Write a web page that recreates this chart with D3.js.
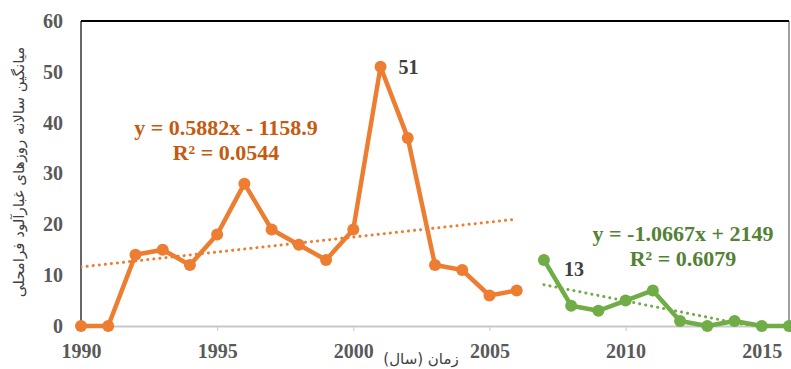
<!DOCTYPE html>
<html>
<head>
<meta charset="utf-8">
<script src="https://cdn.jsdelivr.net/npm/d3@7"></script>
<style>
  body { margin: 0; background: #fff; }
  text { font-family: "Liberation Serif", "Times New Roman", serif; }
</style>
</head>
<body>
<svg id="chart" width="791" height="369"></svg>
<script>
// early period (orange) and later period (green)
var years1 = [1990, 1991, 1992, 1993, 1994, 1995, 1996, 1997, 1998, 1999, 2000, 2001, 2002, 2003, 2004, 2005, 2006];
var values1 = [0, 0, 14, 15, 12, 18, 28, 19, 16, 13, 19, 51, 37, 12, 11, 6, 7];
var years2 = [2007, 2008, 2009, 2010, 2011, 2012, 2013, 2014, 2015, 2016];
var values2 = [13, 4, 3, 5, 7, 1, 0, 1, 0, 0];
var trend1 = { slope: 0.5882, intercept: -1158.9, r2: "0.0544", label: "y = 0.5882x - 1158.9" };
var trend2 = { slope: -1.0667, intercept: 2149, r2: "0.6079", label: "y = -1.0667x + 2149" };
var xTicks = [1990, 1995, 2000, 2005, 2010, 2015];
var yTicks = [0, 10, 20, 30, 40, 50, 60];

var margin = { top: 21, right: 2, bottom: 43, left: 81 },
    width = 791 - margin.left - margin.right,
    height = 369 - margin.top - margin.bottom;

var x = d3.scaleLinear().domain([1990, 2016]).range([0, width]);
var y = d3.scaleLinear().domain([0, 60]).range([height, 0]);

var svg = d3.select("#chart");
var chart = svg.append("g")
    .attr("transform", "translate(" + margin.left + "," + margin.top + ")");

chart.append("clipPath").attr("id", "plot")
    .append("rect").attr("x", 0).attr("y", -5).attr("width", width).attr("height", height + 5);

// frame
chart.append("line").attr("x1", width).attr("x2", width).attr("y1", 0).attr("y2", height)
    .attr("stroke", "#808080").attr("stroke-width", 1.5);
chart.append("line").attr("x1", 0).attr("x2", width).attr("y1", 0).attr("y2", 0)
    .attr("stroke", "#000").attr("stroke-width", 1.8);
chart.append("line").attr("x1", 0).attr("x2", 0).attr("y1", 0).attr("y2", height)
    .attr("stroke", "#000").attr("stroke-width", 1.2);

// x axis
var xAxis = d3.axisBottom(x).tickValues(xTicks).tickFormat(d3.format("d")).tickSize(5).tickPadding(13);
var gx = chart.append("g").attr("transform", "translate(0," + height + ")").call(xAxis);
gx.select(".domain").attr("stroke", "#c8c8c8").attr("stroke-width", 2);
gx.selectAll(".tick line").attr("stroke", "#c8c8c8");
gx.selectAll(".tick text").attr("fill", "#595959").attr("font-size", "20px").attr("font-weight", "bold")
    .style("font-family", "Liberation Serif");

// y axis
var yAxis = d3.axisLeft(y).tickValues(yTicks).tickSize(0).tickPadding(18);
var gy = chart.append("g").call(yAxis);
gy.select(".domain").remove();
gy.selectAll(".tick text").attr("fill", "#595959").attr("font-size", "20px").attr("font-weight", "bold")
    .style("font-family", "Liberation Serif");

// trendlines
function drawTrend(t, x0, x1, color) {
    chart.append("line")
        .attr("clip-path", "url(#plot)")
        .attr("x1", x(x0)).attr("y1", y(t.slope * x0 + t.intercept))
        .attr("x2", x(x1)).attr("y2", y(t.slope * x1 + t.intercept))
        .attr("stroke", color).attr("stroke-width", 3)
        .attr("stroke-dasharray", "0.1 6").attr("stroke-linecap", "round");
}
drawTrend(trend1, 1990, 2006, "#ED7D31");
drawTrend(trend2, 2007, 2016, "#70AD47");

// series
function drawSeries(years, values, color) {
    var pts = years.map(function(d, i) { return [d, values[i]]; });
    chart.append("path")
        .datum(pts)
        .attr("fill", "none")
        .attr("stroke", color)
        .attr("stroke-width", 4.5)
        .attr("stroke-linejoin", "round")
        .attr("d", d3.line().x(function(d) { return x(d[0]); }).y(function(d) { return y(d[1]); }));
    chart.selectAll(null)
        .data(pts)
        .enter().append("circle")
        .attr("cx", function(d) { return x(d[0]); })
        .attr("cy", function(d) { return y(d[1]); })
        .attr("r", 6)
        .attr("fill", color);
}
drawSeries(years1, values1, "#ED7D31");
drawSeries(years2, values2, "#70AD47");

// point labels
chart.append("text").text("51")
    .attr("x", x(2001) + 18).attr("y", y(51) + 7)
    .attr("fill", "#404040").attr("font-size", "20px").attr("font-weight", "bold");
chart.append("text").text("13")
    .attr("x", x(2007) + 20).attr("y", y(13) + 16)
    .attr("fill", "#404040").attr("font-size", "20px").attr("font-weight", "bold");

// equations
function drawEq(t, cx, cy, color) {
    chart.append("text").text(t.label)
        .attr("x", cx).attr("y", cy).attr("text-anchor", "middle")
        .attr("fill", color).attr("font-size", "22px").attr("font-weight", "bold");
    chart.append("text").text("R² = " + t.r2)
        .attr("x", cx).attr("y", cy + 25).attr("text-anchor", "middle")
        .attr("fill", color).attr("font-size", "22px").attr("font-weight", "bold");
}
drawEq(trend1, 145, 114, "#C55A11");
drawEq(trend2, 602, 220, "#548235");

// axis titles
var yTitle = svg.append("text")
    .text("میانگین سالانه روزهای غبارآلود فرامحلی")
    .attr("fill", "#404040")
    .attr("font-size", "15px")
    .style("font-family", "DejaVu Sans");
var yb = yTitle.node().getBBox();
yTitle.attr("transform", "translate(24,172) rotate(-90) translate(" + (-yb.x - yb.width / 2) + ",0)");

var xTitle = svg.append("text")
    .text("زمان (سال)")
    .attr("fill", "#404040")
    .attr("font-size", "15px")
    .style("font-family", "DejaVu Sans");
var xb = xTitle.node().getBBox();
xTitle.attr("x", 421 - xb.x - xb.width / 2).attr("y", 364);
</script>
</body>
</html>
